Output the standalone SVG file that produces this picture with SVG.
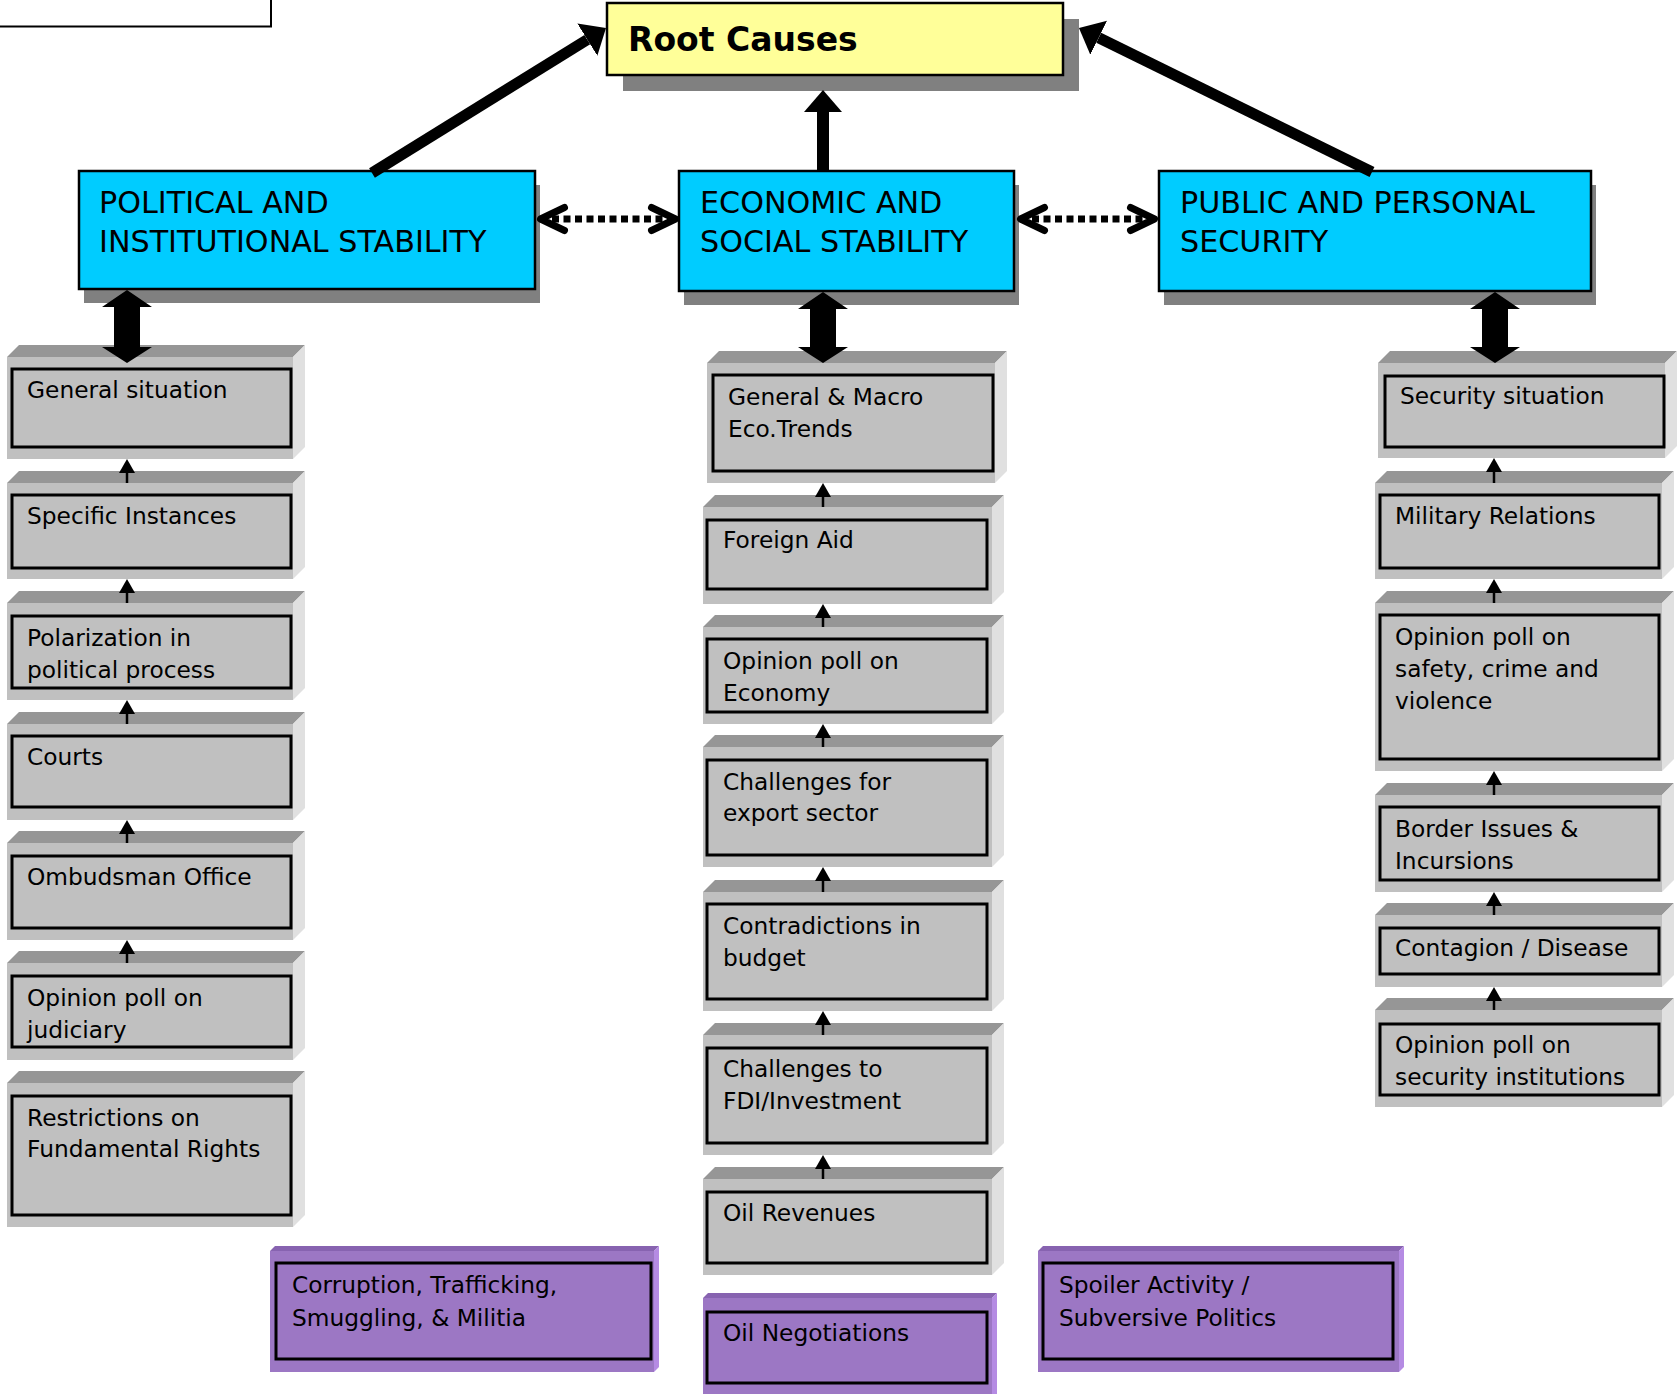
<svg xmlns="http://www.w3.org/2000/svg" width="1678" height="1394" viewBox="0 0 1678 1394">
<style>
text{font-family:"DejaVu Sans",Verdana,"Liberation Sans",sans-serif;fill:#000}
.t{font-size:23.3px}
.h{font-size:30.2px}
.r{font-size:33px;font-weight:bold}
.fr{fill:#c0c0c0}
.tp{fill:#969696}
.sd{fill:#e0e0e0}
.in{fill:#c0c0c0;stroke:#000;stroke-width:3}
.pfr{fill:#9c77c4}
.ptp{fill:#8763b0}
.psd{fill:#b58be3}
.pin{fill:#9c77c4;stroke:#000;stroke-width:3}
.hd{fill:#00ccff;stroke:#000;stroke-width:2.5}
.sh{fill:#808080}
.big{stroke:#000;stroke-width:11;fill:none}
.sm{stroke:#000;stroke-width:2.5;fill:none}
.dot{stroke:#000;stroke-width:7;stroke-dasharray:7 4.5;fill:none}
</style>
<defs>
<marker id="ah" markerUnits="userSpaceOnUse" viewBox="0 -19 22 38" markerWidth="22" markerHeight="38" refX="0" refY="0" orient="auto"><path d="M0,-19 L22,0 L0,19 z" fill="#000"/></marker>
<marker id="as" markerUnits="userSpaceOnUse" viewBox="0 -8 14 16" markerWidth="14" markerHeight="16" refX="0" refY="0" orient="auto"><path d="M0,-8 L14,0 L0,8 z" fill="#000"/></marker>
<marker id="ch" markerUnits="userSpaceOnUse" viewBox="-30 -18 36 36" markerWidth="36" markerHeight="36" refX="0" refY="0" orient="auto-start-reverse" overflow="visible"><path d="M-24,-11.5 L0,0 L-24,11.5" fill="none" stroke="#000" stroke-width="7" stroke-linecap="round" stroke-linejoin="round"/></marker>
</defs>
<rect x="0" y="0" width="1678" height="1394" fill="#fff"/>
<rect id="corner" x="-2" y="-2" width="273" height="28.5" fill="#fff" stroke="#000" stroke-width="2"/>

<g id="root">
<rect class="sh" x="623" y="19" width="456" height="72"/>
<rect x="607" y="3" width="456" height="72" fill="#ffff99" stroke="#000" stroke-width="2.5"/>
<text class="r" x="628" y="51">Root Causes</text>
</g>

<g id="political">
<rect class="sh" x="84" y="185" width="456" height="118"/>
<rect class="hd" x="79" y="171" width="456" height="118"/>
<text class="h" x="99" y="213">POLITICAL AND</text>
<text class="h" x="99" y="252">INSTITUTIONAL STABILITY</text>
</g>
<g id="economic">
<rect class="sh" x="684" y="185" width="335" height="120"/>
<rect class="hd" x="679" y="171" width="335" height="120"/>
<text class="h" x="700" y="213">ECONOMIC AND</text>
<text class="h" x="700" y="252">SOCIAL STABILITY</text>
</g>
<g id="public">
<rect class="sh" x="1164" y="185" width="432" height="120"/>
<rect class="hd" x="1159" y="171" width="432" height="120"/>
<text class="h" x="1180" y="213">PUBLIC AND PERSONAL</text>
<text class="h" x="1180" y="252">SECURITY</text>
</g>

<!-- Left column -->
<g id="l1">
<polygon class="tp" points="7,357 19,345 305,345 293,357"/>
<polygon class="sd" points="293,357 305,345 305,447 293,459"/>
<rect class="fr" x="7" y="357" width="286" height="102"/>
<rect class="in" x="12" y="369" width="279" height="78"/>
<text class="t" x="27" y="398">General situation</text>
</g>
<g id="l2">
<polygon class="tp" points="7,483 19,471 305,471 293,483"/>
<polygon class="sd" points="293,483 305,471 305,567 293,579"/>
<rect class="fr" x="7" y="483" width="286" height="96"/>
<rect class="in" x="12" y="495" width="279" height="73"/>
<text class="t" x="27" y="524">Specific Instances</text>
</g>
<g id="l3">
<polygon class="tp" points="7,603 19,591 305,591 293,603"/>
<polygon class="sd" points="293,603 305,591 305,688 293,700"/>
<rect class="fr" x="7" y="603" width="286" height="97"/>
<rect class="in" x="12" y="616" width="279" height="72"/>
<text class="t" x="27" y="646">Polarization in</text>
<text class="t" x="27" y="678">political process</text>
</g>
<g id="l4">
<polygon class="tp" points="7,724 19,712 305,712 293,724"/>
<polygon class="sd" points="293,724 305,712 305,808 293,820"/>
<rect class="fr" x="7" y="724" width="286" height="96"/>
<rect class="in" x="12" y="736" width="279" height="71"/>
<text class="t" x="27" y="765">Courts</text>
</g>
<g id="l5">
<polygon class="tp" points="7,843 19,831 305,831 293,843"/>
<polygon class="sd" points="293,843 305,831 305,928 293,940"/>
<rect class="fr" x="7" y="843" width="286" height="97"/>
<rect class="in" x="12" y="856" width="279" height="72"/>
<text class="t" x="27" y="885">Ombudsman Office</text>
</g>
<g id="l6">
<polygon class="tp" points="7,963 19,951 305,951 293,963"/>
<polygon class="sd" points="293,963 305,951 305,1048 293,1060"/>
<rect class="fr" x="7" y="963" width="286" height="97"/>
<rect class="in" x="12" y="976" width="279" height="71"/>
<text class="t" x="27" y="1006">Opinion poll on</text>
<text class="t" x="27" y="1038">judiciary</text>
</g>
<g id="l7">
<polygon class="tp" points="7,1083 19,1071 305,1071 293,1083"/>
<polygon class="sd" points="293,1083 305,1071 305,1215 293,1227"/>
<rect class="fr" x="7" y="1083" width="286" height="144"/>
<rect class="in" x="12" y="1096" width="279" height="119"/>
<text class="t" x="27" y="1126">Restrictions on</text>
<text class="t" x="27" y="1157">Fundamental Rights</text>
</g>

<!-- Center column -->
<g id="c1">
<polygon class="tp" points="707,363 719,351 1007,351 995,363"/>
<polygon class="sd" points="995,363 1007,351 1007,471 995,483"/>
<rect class="fr" x="707" y="363" width="288" height="120"/>
<rect class="in" x="713" y="375" width="280" height="96"/>
<text class="t" x="728" y="405">General &amp; Macro</text>
<text class="t" x="728" y="437">Eco.Trends</text>
</g>
<g id="c2">
<polygon class="tp" points="703,507 715,495 1004,495 992,507"/>
<polygon class="sd" points="992,507 1004,495 1004,592 992,604"/>
<rect class="fr" x="703" y="507" width="289" height="97"/>
<rect class="in" x="707" y="520" width="280" height="69"/>
<text class="t" x="723" y="548">Foreign Aid</text>
</g>
<g id="c3">
<polygon class="tp" points="703,627 715,615 1004,615 992,627"/>
<polygon class="sd" points="992,627 1004,615 1004,712 992,724"/>
<rect class="fr" x="703" y="627" width="289" height="97"/>
<rect class="in" x="707" y="639" width="280" height="73"/>
<text class="t" x="723" y="669">Opinion poll on</text>
<text class="t" x="723" y="701">Economy</text>
</g>
<g id="c4">
<polygon class="tp" points="703,747 715,735 1004,735 992,747"/>
<polygon class="sd" points="992,747 1004,735 1004,855 992,867"/>
<rect class="fr" x="703" y="747" width="289" height="120"/>
<rect class="in" x="707" y="760" width="280" height="95"/>
<text class="t" x="723" y="790">Challenges for</text>
<text class="t" x="723" y="821">export sector</text>
</g>
<g id="c5">
<polygon class="tp" points="703,892 715,880 1004,880 992,892"/>
<polygon class="sd" points="992,892 1004,880 1004,999 992,1011"/>
<rect class="fr" x="703" y="892" width="289" height="119"/>
<rect class="in" x="707" y="904" width="280" height="95"/>
<text class="t" x="723" y="934">Contradictions in</text>
<text class="t" x="723" y="966">budget</text>
</g>
<g id="c6">
<polygon class="tp" points="703,1035 715,1023 1004,1023 992,1035"/>
<polygon class="sd" points="992,1035 1004,1023 1004,1143 992,1155"/>
<rect class="fr" x="703" y="1035" width="289" height="120"/>
<rect class="in" x="707" y="1048" width="280" height="95"/>
<text class="t" x="723" y="1077">Challenges to</text>
<text class="t" x="723" y="1109">FDI/Investment</text>
</g>
<g id="c7">
<polygon class="tp" points="703,1179 715,1167 1004,1167 992,1179"/>
<polygon class="sd" points="992,1179 1004,1167 1004,1263 992,1275"/>
<rect class="fr" x="703" y="1179" width="289" height="96"/>
<rect class="in" x="707" y="1192" width="280" height="71"/>
<text class="t" x="723" y="1221">Oil Revenues</text>
</g>
<g id="c8">
<polygon class="ptp" points="703,1298 708,1293 997,1293 992,1298"/>
<polygon class="psd" points="992,1298 997,1293 997,1394 992,1394"/>
<rect class="pfr" x="703" y="1298" width="289" height="96"/>
<rect class="pin" x="707" y="1312" width="280" height="71"/>
<text class="t" x="723" y="1341">Oil Negotiations</text>
</g>

<!-- Right column -->
<g id="r1">
<polygon class="tp" points="1378,363 1390,351 1677,351 1665,363"/>
<polygon class="sd" points="1665,363 1677,351 1677,446 1665,458"/>
<rect class="fr" x="1378" y="363" width="287" height="95"/>
<rect class="in" x="1385" y="376" width="279" height="71"/>
<text class="t" x="1400" y="404">Security situation</text>
</g>
<g id="r2">
<polygon class="tp" points="1375,483 1387,471 1674,471 1662,483"/>
<polygon class="sd" points="1662,483 1674,471 1674,567 1662,579"/>
<rect class="fr" x="1375" y="483" width="287" height="96"/>
<rect class="in" x="1380" y="495" width="279" height="73"/>
<text class="t" x="1395" y="524">Military Relations</text>
</g>
<g id="r3">
<polygon class="tp" points="1375,603 1387,591 1674,591 1662,603"/>
<polygon class="sd" points="1662,603 1674,591 1674,759 1662,771"/>
<rect class="fr" x="1375" y="603" width="287" height="168"/>
<rect class="in" x="1380" y="615" width="279" height="144"/>
<text class="t" x="1395" y="645">Opinion poll on</text>
<text class="t" x="1395" y="677">safety, crime and</text>
<text class="t" x="1395" y="709">violence</text>
</g>
<g id="r4">
<polygon class="tp" points="1375,795 1387,783 1674,783 1662,795"/>
<polygon class="sd" points="1662,795 1674,783 1674,880 1662,892"/>
<rect class="fr" x="1375" y="795" width="287" height="97"/>
<rect class="in" x="1380" y="807" width="279" height="73"/>
<text class="t" x="1395" y="837">Border Issues &amp;</text>
<text class="t" x="1395" y="869">Incursions</text>
</g>
<g id="r5">
<polygon class="tp" points="1375,915 1387,903 1674,903 1662,915"/>
<polygon class="sd" points="1662,915 1674,903 1674,975 1662,987"/>
<rect class="fr" x="1375" y="915" width="287" height="72"/>
<rect class="in" x="1380" y="928" width="279" height="46"/>
<text class="t" x="1395" y="956">Contagion / Disease</text>
</g>
<g id="r6">
<polygon class="tp" points="1375,1010 1387,998 1674,998 1662,1010"/>
<polygon class="sd" points="1662,1010 1674,998 1674,1095 1662,1107"/>
<rect class="fr" x="1375" y="1010" width="287" height="97"/>
<rect class="in" x="1380" y="1024" width="279" height="71"/>
<text class="t" x="1395" y="1053">Opinion poll on</text>
<text class="t" x="1395" y="1085">security institutions</text>
</g>

<!-- Purple -->
<g id="p1">
<polygon class="ptp" points="270,1251 275,1246 659,1246 654,1251"/>
<polygon class="psd" points="654,1251 659,1246 659,1367 654,1372"/>
<rect class="pfr" x="270" y="1251" width="384" height="121"/>
<rect class="pin" x="276" y="1263" width="375" height="96"/>
<text class="t" x="292" y="1293">Corruption, Trafficking,</text>
<text class="t" x="292" y="1326">Smuggling, &amp; Militia</text>
</g>
<g id="p2">
<polygon class="ptp" points="1038,1251 1043,1246 1404,1246 1399,1251"/>
<polygon class="psd" points="1399,1251 1404,1246 1404,1367 1399,1372"/>
<rect class="pfr" x="1038" y="1251" width="361" height="121"/>
<rect class="pin" x="1043" y="1263" width="350" height="96"/>
<text class="t" x="1059" y="1293">Spoiler Activity /</text>
<text class="t" x="1059" y="1326">Subversive Politics</text>
</g>

<g id="connectors">
<line class="big" x1="372" y1="173" x2="587.3" y2="39.6" marker-end="url(#ah)"/>
<line class="big" x1="1372" y1="172" x2="1098.7" y2="37.7" marker-end="url(#ah)"/>
<line class="big" style="stroke-width:12" x1="823" y1="171" x2="823" y2="112" marker-end="url(#ah)"/>
<line class="dot" x1="540.5" y1="219" x2="675.5" y2="219" marker-start="url(#ch)" marker-end="url(#ch)"/>
<line class="dot" x1="1020.5" y1="219" x2="1154.5" y2="219" marker-start="url(#ch)" marker-end="url(#ch)"/>
<polygon points="127,290 152,307 140,307 140,347 152,347 127,363 102,347 114,347 114,307 102,307"/>
<polygon points="823,292 848,309 836,309 836,347 848,347 823,363 798,347 810,347 810,309 798,309"/>
<polygon points="1495,292 1520,309 1508,309 1508,347 1520,347 1495,363 1470,347 1482,347 1482,309 1470,309"/>
<line class="sm" x1="127" y1="483" x2="127" y2="473" marker-end="url(#as)"/>
<line class="sm" x1="127" y1="603" x2="127" y2="593" marker-end="url(#as)"/>
<line class="sm" x1="127" y1="724" x2="127" y2="714" marker-end="url(#as)"/>
<line class="sm" x1="127" y1="843" x2="127" y2="834" marker-end="url(#as)"/>
<line class="sm" x1="127" y1="963" x2="127" y2="954" marker-end="url(#as)"/>
<line class="sm" x1="823" y1="507" x2="823" y2="497" marker-end="url(#as)"/>
<line class="sm" x1="823" y1="627" x2="823" y2="618" marker-end="url(#as)"/>
<line class="sm" x1="823" y1="747" x2="823" y2="738" marker-end="url(#as)"/>
<line class="sm" x1="823" y1="892" x2="823" y2="881" marker-end="url(#as)"/>
<line class="sm" x1="823" y1="1035" x2="823" y2="1025" marker-end="url(#as)"/>
<line class="sm" x1="823" y1="1179" x2="823" y2="1169" marker-end="url(#as)"/>
<line class="sm" x1="1494" y1="483" x2="1494" y2="472" marker-end="url(#as)"/>
<line class="sm" x1="1494" y1="603" x2="1494" y2="593" marker-end="url(#as)"/>
<line class="sm" x1="1494" y1="795" x2="1494" y2="785" marker-end="url(#as)"/>
<line class="sm" x1="1494" y1="915" x2="1494" y2="906" marker-end="url(#as)"/>
<line class="sm" x1="1494" y1="1010" x2="1494" y2="1001" marker-end="url(#as)"/>
</g>
</svg>
